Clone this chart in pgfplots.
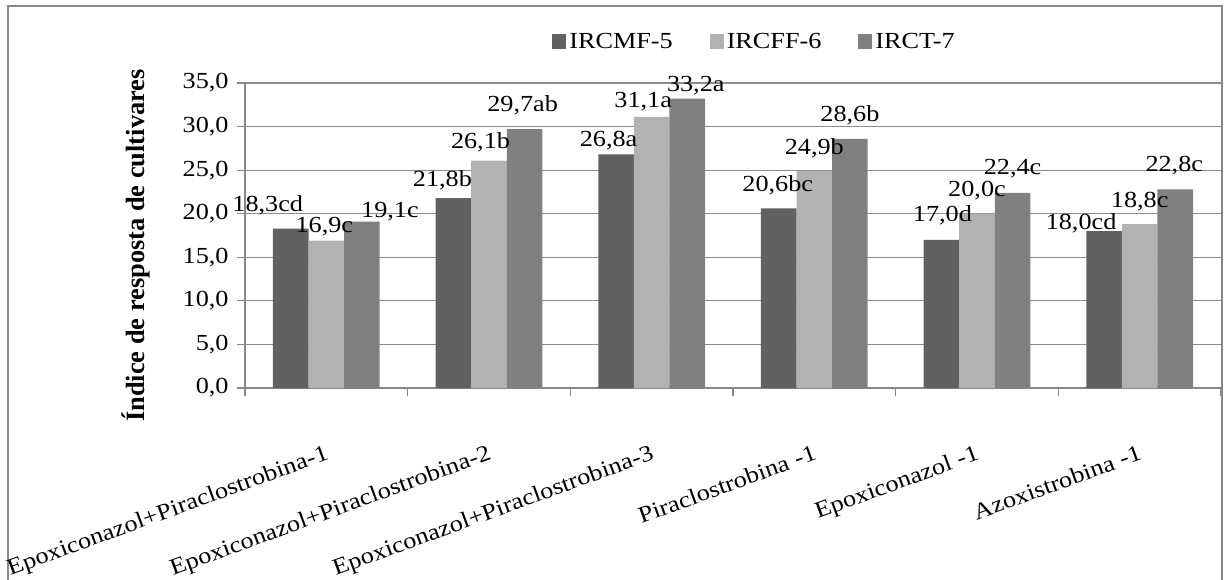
\documentclass[border=0pt]{standalone}
\usepackage{fontspec}
\setmainfont{Liberation Serif}[FakeStretch=1.14]
\newfontfamily\labfont{Liberation Serif}
\usepackage{pgfplots}
\usepackage{pgfplotstable}
\pgfplotsset{compat=1.18}
\definecolor{serA}{HTML}{616161}
\definecolor{serB}{HTML}{B2B2B2}
\definecolor{serC}{HTML}{808080}
\definecolor{axgray}{HTML}{878787}
\definecolor{gridgray}{HTML}{8C8C8C}

% IRCMF-5
\pgfplotstableread{
x y lab dx dy
0 18.3 18,3cd -11.5 8.5
1 21.8 21,8b -5.5 6
2 26.8 26,8a -3.75 4
3 20.6 20,6bc -0.5 8.5
4 17.0 17,0d 0.5 9
5 18.0 18,0cd -11.5 1
}\tA
% IRCFF-6
\pgfplotstableread{
x y lab dx dy
0 16.9 16,9c -1 4
1 26.1 26,1b -4.25 6
2 31.1 31,1a -4.25 4.5
3 24.9 24,9b 0 8.5
4 20.0 20,0c 0 8.5
5 18.8 18,8c 0 8.5
}\tB
% IRCT-7
\pgfplotstableread{
x y lab dx dy
0 19.1 19,1c 14 2
1 29.7 29,7ab -1 9
2 33.2 33,2a 4.25 3.5
3 28.6 28,6b 0 8.5
4 22.4 22,4c 0 9
5 22.8 22,8c -0.5 8.8
}\tC

\pgfplotsset{sq legend/.style={legend image code/.code={\fill[##1] (0pt,-3.5pt) rectangle (7pt,4pt);}}}

\begin{document}
\begin{tikzpicture}
\useasboundingbox (0,0) rectangle (612pt,289.5pt);
\draw[axgray, line width=1pt] (4pt,-2pt) -- (4pt,286.5pt) -- (611pt,286.5pt) -- (611pt,-2pt);
\begin{axis}[
  at={(122.5pt,95.5pt)}, anchor=south west,
  scale only axis, width=488pt, height=152.5pt,
  font=\fontsize{11.5}{13}\selectfont,
  ybar=0pt, bar width=17.8pt,
  xmin=-0.5, xmax=5.5, ymin=0, ymax=35,
  xtick={0,...,5},
  xticklabels={Epoxiconazol+Piraclostrobina-1, Epoxiconazol+Piraclostrobina-2, Epoxiconazol+Piraclostrobina-3, Piraclostrobina -1, Epoxiconazol -1, Azoxistrobina -1},
  minor xtick={-0.5,0.5,...,5.5},
  ytick={0,5,...,35},
  ymajorgrids, grid style={gridgray, line width=0.6pt},
  axis lines*=left, axis line style={axgray, line width=0.6pt},
  tick align=outside, major tick length=4pt, minor tick length=4pt,
  every major x tick/.append style={draw=none},
  every minor x tick/.append style={axgray, line width=0.6pt},
  ytick style={axgray, line width=0.6pt},
  x tick label style={yshift=-24pt, xshift=-1pt, rotate=20, anchor=north east, inner sep=0pt},
  y tick label style={inner sep=0pt, xshift=-4pt,
    /pgf/number format/fixed, /pgf/number format/fixed zerofill,
    /pgf/number format/precision=1, /pgf/number format/use comma,
    /pgf/number format/assume math mode=true},
  every axis y label/.style={at={(axis description cs:-0.1025,0.467)}, rotate=90, anchor=base},
  ylabel={\labfont\bfseries\fontsize{13.2}{15}\selectfont Índice de resposta de cultivares},
  point meta=explicit symbolic,
  nodes near coords,
  visualization depends on={\thisrow{dx} \as \dx},
  visualization depends on={\thisrow{dy} \as \dy},
  every node near coord/.append style={anchor=base, inner sep=0pt, xshift=\dx pt, yshift=\dy pt},
  legend columns=3,
  legend style={at={(0.5225,1.134)}, anchor=center, draw=none, fill=none,
    /tikz/every even column/.append style={column sep=17pt},
    nodes={inner sep=1.5pt}},
]
\addplot[fill=serA, draw=none, sq legend] table[x=x, y=y, meta=lab] {\tA};
\addplot[fill=serB, draw=none, sq legend] table[x=x, y=y, meta=lab] {\tB};
\addplot[fill=serC, draw=none, sq legend] table[x=x, y=y, meta=lab] {\tC};
\legend{IRCMF-5, IRCFF-6, IRCT-7}
\end{axis}
\end{tikzpicture}
\end{document}
